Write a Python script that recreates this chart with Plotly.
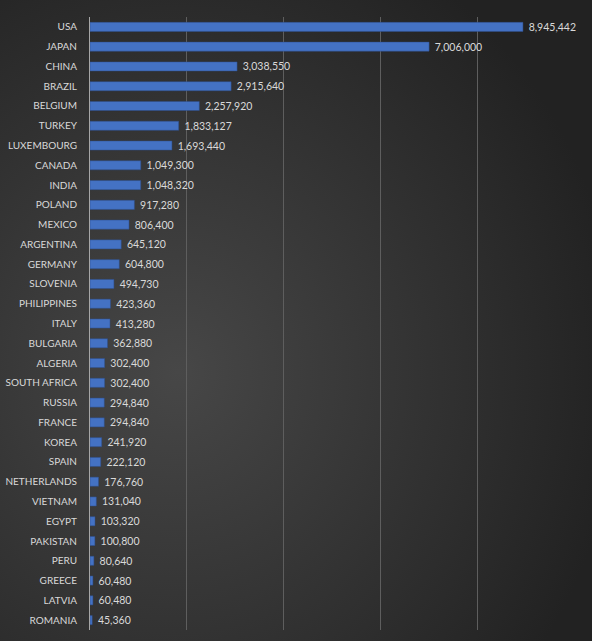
import base64
import plotly.graph_objects as go

countries = ["USA", "JAPAN", "CHINA", "BRAZIL", "BELGIUM", "TURKEY", "LUXEMBOURG", "CANADA",
             "INDIA", "POLAND", "MEXICO", "ARGENTINA", "GERMANY", "SLOVENIA", "PHILIPPINES",
             "ITALY", "BULGARIA", "ALGERIA", "SOUTH AFRICA", "RUSSIA", "FRANCE", "KOREA",
             "SPAIN", "NETHERLANDS", "VIETNAM", "EGYPT", "PAKISTAN", "PERU", "GREECE",
             "LATVIA", "ROMANIA"]
values = [8945442, 7006000, 3038550, 2915640, 2257920, 1833127, 1693440, 1049300,
          1048320, 917280, 806400, 645120, 604800, 494730, 423360,
          413280, 362880, 302400, 302400, 294840, 294840, 241920,
          222120, 176760, 131040, 103320, 100800, 80640, 60480,
          60480, 45360]
x_ticks = [0, 2000000, 4000000, 6000000, 8000000, 10000000]

W, H = 592, 641
L, R, T, B = 90, 18, 17, 11
pw, ph = W - L - R, H - T - B

svg = f'''<svg xmlns="http://www.w3.org/2000/svg" width="{W}" height="{H}">
<defs><radialGradient id="g" cx="30%" cy="58%" r="75%">
<stop offset="0%" stop-color="#474747"/><stop offset="100%" stop-color="#222222"/>
</radialGradient></defs>
<rect width="{W}" height="{H}" fill="url(#g)"/></svg>'''
src = "data:image/svg+xml;base64," + base64.b64encode(svg.encode()).decode()

fig = go.Figure()
fig.add_trace(go.Bar(
    y=countries, x=values, orientation="h",
    marker=dict(color="#4472c4", line=dict(color="#2f4f8a", width=0.5)),
    width=0.46,
    text=[f" {v:,}" for v in values], textposition="outside",
    constraintext="none",
    textfont=dict(color="#d9d9d9", size=10.5, family="Lato"),
    cliponaxis=False,
))
fig.update_layout(
    width=W, height=H,
    margin=dict(l=L, r=R, t=T, b=B, autoexpand=False),
    paper_bgcolor="#2e2e2e", plot_bgcolor="rgba(0,0,0,0)",
    showlegend=False,
    images=[dict(source=src, xref="paper", yref="paper",
                 x=-L / pw, y=1 + T / ph, sizex=W / pw, sizey=H / ph,
                 xanchor="left", yanchor="top", sizing="stretch", layer="below")],
    xaxis=dict(range=[0, 10000000], tickvals=x_ticks, showticklabels=False,
               showgrid=True, gridcolor="#5e5e5e", gridwidth=1, zeroline=False,
               showline=False, automargin=False),
    yaxis=dict(autorange="reversed", showgrid=False, showline=True,
               linecolor="#a6a6a6", linewidth=1, ticks="", ticklabelstandoff=10,
               automargin=False,
               tickfont=dict(color="#d9d9d9", size=10, family="Lato")),
)
fig.write_html("out.html", config={"displayModeBar": False},
               post_script="document.body.style.margin='0';document.body.style.overflow='hidden';")
